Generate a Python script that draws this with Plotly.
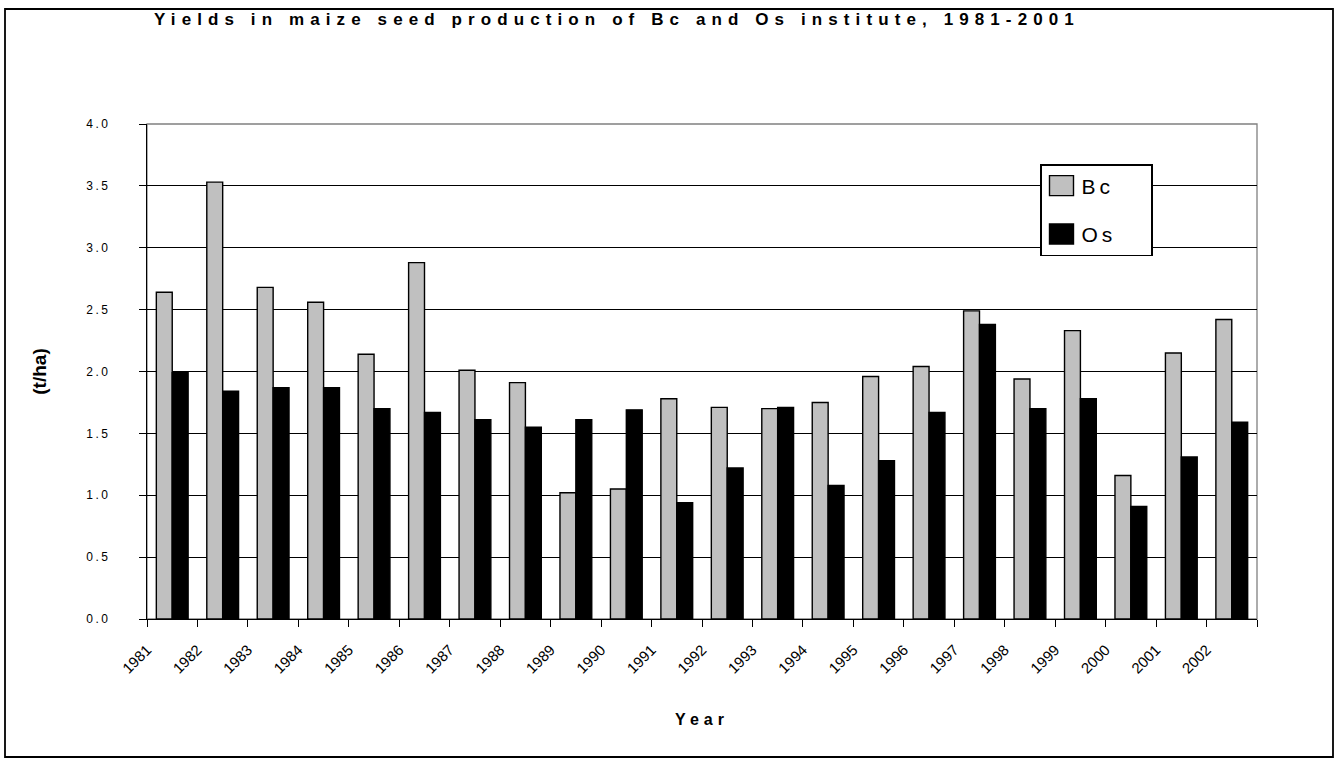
import plotly.graph_objects as go

years = [str(y) for y in range(1981, 2003)]
bc = [2.64, 3.53, 2.68, 2.56, 2.14, 2.88, 2.01, 1.91, 1.02, 1.05, 1.78,
      1.71, 1.70, 1.75, 1.96, 2.04, 2.49, 1.94, 2.33, 1.16, 2.15, 2.42]
os_ = [1.99, 1.84, 1.87, 1.87, 1.70, 1.67, 1.61, 1.55, 1.61, 1.69, 0.94,
       1.22, 1.71, 1.08, 1.28, 1.67, 2.38, 1.70, 1.78, 0.91, 1.31, 1.59]
y_ticks = [0.0, 0.5, 1.0, 1.5, 2.0, 2.5, 3.0, 3.5, 4.0]

title_text = "Yields in maize seed production of Bc and Os institute, 1981-2001"

W, H = 1337, 762
ML, MR, MT, MB = 147, 80, 124, 143
PW = W - ML - MR
PH = H - MT - MB

FONT = "Liberation Sans, Arial, sans-serif"

# category centres: labels sit at category boundaries (Excel style)
xc = [i + 0.5 for i in range(len(years))]
tickvals = list(range(len(years) + 1))
ticktext = years + [""]

fig = go.Figure()
fig.add_trace(go.Bar(x=xc, y=bc, name="Bc", legendgroup="a",
                     marker=dict(color="#C0C0C0", line=dict(color="#000000", width=1.4))))
fig.add_trace(go.Bar(x=xc, y=os_, name="Os", legendgroup="b",
                     marker=dict(color="#000000", line=dict(color="#000000", width=1.4))))

def px_x(p):
    return (p - ML) / PW

def px_y(p):
    return (H - MB - p) / PH

shapes = [
    # plot area border (grey)
    dict(type="rect", xref="paper", yref="paper", x0=0, x1=1, y0=0, y1=1,
         line=dict(color="#808080", width=1.3), layer="below"),
    # outer chart frame
    dict(type="rect", xref="paper", yref="paper",
         x0=px_x(5), x1=px_x(1333), y0=px_y(757), y1=px_y(9),
         line=dict(color="#000000", width=1.8), layer="below"),
]

fig.update_layout(
    width=W, height=H,
    margin=dict(l=ML, r=MR, t=MT, b=MB, pad=0),
    paper_bgcolor="white", plot_bgcolor="white",
    barmode="group", bargap=0.37, bargroupgap=0.0,
    font=dict(family=FONT, color="#000000"),
    title=dict(text="<b>" + title_text + "</b>", x=154 / W,
               xanchor="left", xref="container", y=1 - 19 / H, yanchor="middle",
               font=dict(size=17, family=FONT, color="#000000")),
    legend=dict(x=px_x(1040), y=px_y(164), xanchor="left", yanchor="top",
                bgcolor="white", bordercolor="#000000", borderwidth=1.5,
                font=dict(size=21, family=FONT, color="#000000"),
                traceorder="grouped", tracegroupgap=18,
                itemclick=False, itemdoubleclick=False),
    xaxis=dict(range=[0, len(years)], tickmode="array", tickvals=tickvals,
               ticktext=ticktext, tickangle=-45, ticks="outside", ticklen=7,
               tickcolor="#000000", tickwidth=1.3,
               showline=True, linecolor="#000000", linewidth=1.4,
               showgrid=False, zeroline=False, ticklabelstandoff=8,
               tickfont=dict(size=15, family=FONT, color="#000000"),
               title=dict(text="<b>Year</b>", standoff=38,
                          font=dict(size=16, family=FONT, color="#000000"))),
    yaxis=dict(range=[0, 4], tickmode="array", tickvals=y_ticks,
               tickformat=".1f", ticks="outside", ticklen=7,
               tickcolor="#000000", tickwidth=1.3,
               showline=True, linecolor="#000000", linewidth=1.4,
               showgrid=True, gridcolor="#000000", gridwidth=1.3,
               zeroline=False, ticklabelstandoff=26,
               tickfont=dict(size=12, family=FONT, color="#000000"),
               title=dict(text="<b>(t/ha)</b>", standoff=42,
                          font=dict(size=19, family=FONT, color="#000000"))),
    shapes=shapes,
    showlegend=True,
)

post = """
document.body.style.margin = '0';
document.documentElement.style.overflow = 'hidden';
var gd = document.getElementById('{plot_id}');
function tweak(){
  gd.querySelectorAll('.gtitle').forEach(function(e){e.style.letterSpacing='6.1px';});
  gd.querySelectorAll('.xtitle').forEach(function(e){e.style.letterSpacing='5px';});
  gd.querySelectorAll('.ytick text').forEach(function(e){e.style.letterSpacing='2.5px';});
  gd.querySelectorAll('.legendtext').forEach(function(e){e.style.letterSpacing='4px';});
  gd.querySelectorAll('.legendpoints path').forEach(function(e){e.setAttribute('d','M12,10H-12V-10H12Z');});
  gd.querySelectorAll('.legend rect.bg').forEach(function(e){e.setAttribute('width','111');});
}
tweak();
if (gd.on) { gd.on('plotly_afterplot', tweak); }
"""

fig.write_html("out.html", config={"displayModeBar": False}, post_script=post)
